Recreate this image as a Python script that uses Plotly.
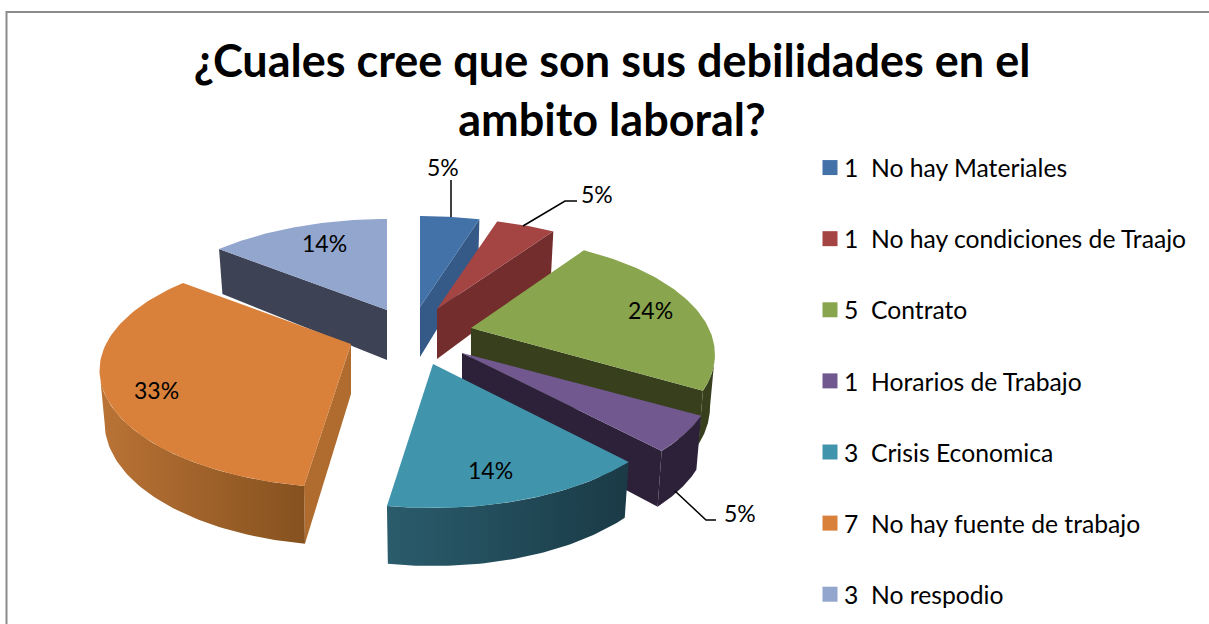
import math
import numpy as np
import plotly.graph_objects as go

# ---- data ----
categories = ["1  No hay Materiales", "1  No hay condiciones de Traajo", "5  Contrato",
              "1  Horarios de Trabajo", "3  Crisis Economica", "7  No hay fuente de trabajo", "3  No respodio"]
values = [1, 1, 5, 1, 3, 7, 3]
title_lines = ["¿Cuales cree que son sus debilidades en el", "ambito laboral?"]

# ---- style ----
top_colors = ["#4372A8", "#A54543", "#89A54E", "#71588F", "#4095AD", "#D9803B", "#92A6CE"]
side_colors = ["#355A87", "#722D2C", "#373F1C", "#2C2138", "#1C3E4B", "#AF6C2E", "#3D4355"]
arc_gradients = [None, None, ("#373F1C", "#373F1C"), ("#2C2138", "#2C2138"),
                 ("#2A5C6C", "#1A3A46"), ("#BA7335", "#85511F"), None]
# where the tip of every exploded slice lands, in page pixels
explode_tip_x = [420, 437, 471, 462, 433, 351, 387]
explode_tip_y = [307, 309, 328, 353, 364, 344, 310]
slice_x_scale = [1.0, 1.0, 0.97, 1.0, 0.98, 1.0, 1.0]
draw_order = [6, 0, 1, 2, 5, 3, 4]
label_x = [443, 597, 650, 740, 490, 156, 324]
label_y = [167, 194, 310, 513, 470, 390, 243]
leaders = [[(451, 180), (451, 217)],
           [(577, 201), (565, 201), (523, 226)],
           [(716, 520), (706, 520), (675, 491)]]
R, RY, K = 245.0, 111.5, 0.2255
FONT = "Lato"
TXT = "#000000"


def rim(theta_deg, tip, xs=1.0):
    t = math.radians(theta_deg)
    u, v = math.sin(t), math.cos(t)
    s = 1 / (1 + K * v)
    return tip[0] + xs * R * u * s, tip[1] - RY * v * s


def drop(theta_deg):
    return 50 - 8 * math.cos(math.radians(theta_deg))


def lower(theta_deg, tip, xs=1.0):
    x, y = rim(theta_deg, tip, xs)
    return tip[0] + (x - tip[0]) * 0.98, y + drop(theta_deg)


def area(pts):
    return sum(pts[i][0] * pts[(i + 1) % len(pts)][1] - pts[(i + 1) % len(pts)][0] * pts[i][1]
               for i in range(len(pts)))


def poly(fig, pts, color, grad=None):
    xs = [p[0] for p in pts] + [pts[0][0]]
    ys = [p[1] for p in pts] + [pts[0][1]]
    kw = dict(fillcolor=color)
    if grad:
        kw = dict(fillgradient=dict(type="horizontal", colorscale=[[0, grad[0]], [1, grad[1]]]))
    fig.add_trace(go.Scatter(x=xs, y=ys, mode="lines", fill="toself", line=dict(width=0, color=color),
                             showlegend=False, hoverinfo="skip", **kw))


fig = go.Figure()
total = sum(values)
edges = [0.0]
for v in values:
    edges.append(edges[-1] + v / total * 360)

for i in draw_order:
    a, b = edges[i], edges[i + 1]
    tip = (explode_tip_x[i], explode_tip_y[i])
    xs = slice_x_scale[i]
    tip_low = (tip[0], tip[1] + 50)
    # radial walls that face the viewer
    for th, sign in ((a, -1), (b, 1)):
        q = [tip, rim(th, tip, xs), lower(th, tip, xs), tip_low]
        if area(q) * sign > 1:
            poly(fig, q, side_colors[i])
    # outer wall: only the front part of the rim shows
    lo, hi = max(a, 103), min(b, 257)
    if hi > lo:
        ths = np.linspace(lo, hi, 60)
        q = [rim(t, tip, xs) for t in ths] + [lower(t, tip, xs) for t in ths[::-1]]
        poly(fig, q, side_colors[i], arc_gradients[i])
    # top face
    ths = np.linspace(a, b, 80)
    poly(fig, [tip] + [rim(t, tip, xs) for t in ths], top_colors[i])

# legend entries
for c, col in zip(categories, top_colors):
    fig.add_trace(go.Scatter(x=[None], y=[None], mode="markers", name=c, legendgroup=c,
                             marker=dict(symbol="square", size=15, color=col)))

# leader lines
for seg in leaders:
    fig.add_trace(go.Scatter(x=[p[0] for p in seg], y=[p[1] for p in seg], mode="lines",
                             line=dict(color="#000000", width=1.5), showlegend=False, hoverinfo="skip"))

# percentage labels
for v, x, y in zip(values, label_x, label_y):
    fig.add_annotation(x=x, y=y, xref="x", yref="y", text=f"{round(v / total * 100)}%", showarrow=False,
                       font=dict(family=FONT, size=23, color=TXT))

# frame
fig.add_shape(type="line", x0=6, x1=1209, y0=12, y1=12, line=dict(color="#8C8C8C", width=2))
fig.add_shape(type="line", x0=6.5, x1=6.5, y0=11, y1=624, line=dict(color="#8C8C8C", width=2))

fig.update_layout(
    width=1209, height=624, autosize=False,
    margin=dict(l=0, r=0, t=0, b=0, autoexpand=False),
    paper_bgcolor="#FFFFFF", plot_bgcolor="#FFFFFF",
    title=dict(text="<br>".join(title_lines), x=612 / 1209, xanchor="center", y=1 - 77 / 624, yanchor="middle",
               font=dict(family=FONT, size=45, color=TXT, weight="bold")),
    xaxis=dict(range=[0, 1209], visible=False, fixedrange=True),
    yaxis=dict(range=[624, 0], visible=False, fixedrange=True),
    legend=dict(x=811 / 1209, y=1 - 145 / 624, xanchor="left", yanchor="top", tracegroupgap=36,
                font=dict(family=FONT, size=24.7, color=TXT), itemwidth=30, indentation=-7,
                maxheight=620, bgcolor="rgba(0,0,0,0)"),
    showlegend=True,
)
fig.write_html("out.html", config=dict(displayModeBar=False),
               post_script="document.body.style.margin='0';document.body.style.overflow='hidden';"
                           "document.querySelectorAll('.legendsymbols').forEach(function(g){"
                           "g.setAttribute('transform','translate(6,0)');});")
